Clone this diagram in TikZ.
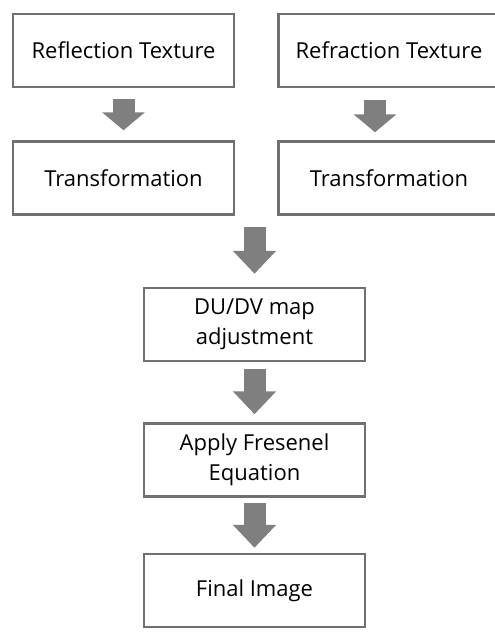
\documentclass[tikz,border=0pt]{standalone}
\usepackage{fontspec}
\setmainfont{Open Sans}
\usetikzlibrary{positioning,arrows.meta}

\definecolor{boxgray}{HTML}{707070}
\definecolor{arrowgray}{HTML}{7F7F7F}

\tikzset{
  stagebox/.style={draw=boxgray, line width=2.5pt, fill=white,
    minimum width=221pt, minimum height=73pt, inner sep=0pt,
    align=center, font=\fontsize{22}{30}\selectfont},
  flowarrow/.style={draw=arrowgray, line width=22pt,
    -{Triangle[width=42pt 0 0, length=#1 0 0]}},
  flowarrow/.default=23pt,
}

\begin{document}
\begin{tikzpicture}[x=1pt, y=-1pt]
  \useasboundingbox (0,0) rectangle (495,632);

  % two texture branches
  \node[stagebox] (refl) at (123.5,50.5) {Reflection Texture};
  \node[stagebox, right=42pt of refl] (refr) {Refraction Texture};
  \node[stagebox, below=52pt of refl] (refltr) {Transformation};
  \node[stagebox, below=52pt of refr] (refrtr) {Transformation};

  % merged chain
  \node[stagebox] (du) at (254.5,324.5) {DU/DV map\\adjustment};
  \node[stagebox, below=60pt of du] (fres) {Apply Fresenel\\Equation};
  \node[stagebox, below=55pt of fres] (final) {Final Image};
  \coordinate (merge) at (du.north |- refltr.south);

  \draw[flowarrow=18pt, shorten <=11pt, shorten >=10pt] (refl) -- (refltr);
  \draw[flowarrow=18pt, shorten <=12pt, shorten >=8pt]
    ([xshift=-14pt]refr.south) -- ([xshift=-14pt]refrtr.north);
  \draw[flowarrow, shorten <=11pt, shorten >=13pt] (merge) -- (du.north);
  \draw[flowarrow, shorten <=7pt, shorten >=8pt] (du) -- (fres);
  \draw[flowarrow, shorten <=5pt, shorten >=5pt] (fres) -- (final);
\end{tikzpicture}
\end{document}
